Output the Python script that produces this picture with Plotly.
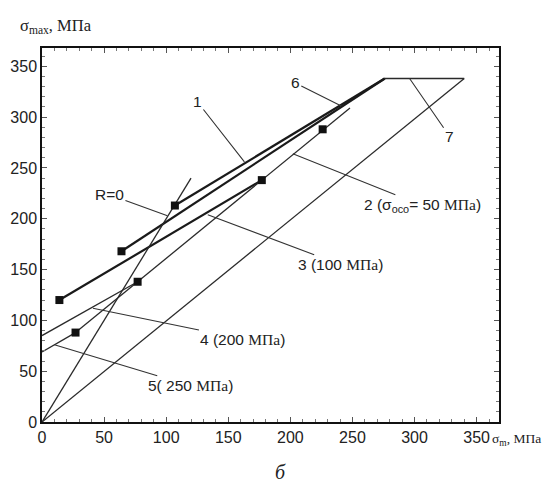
import plotly.graph_objects as go

# ---- data (MPa) ----
# thick boundary lines
thick_x = [[107, 276], [64, 276], [14, 177]]
thick_y = [[213, 338], [168, 338], [120, 238]]
# thin lines
line_eq_x = [0, 340]          # sigma_max = sigma_m
line_eq_y = [0, 338]
limit_x = [276, 340]          # horizontal limit (7)
limit_y = [338, 338]
r0_x = [0, 120]               # R = 0 ray
r0_y = [0, 240]
const_a_x = [27, 248]         # constant-amplitude line through points
const_a_y = [88, 309]
line4_x = [0, 77]
line4_y = [85, 138]
line5_x = [0, 27]
line5_y = [69, 88]
# experimental points
pts_x = [14, 64, 107, 27, 77, 177, 226]
pts_y = [120, 168, 213, 88, 138, 238, 288]

x_ticks = [0, 50, 100, 150, 200, 250, 300, 350]
y_ticks = [0, 50, 100, 150, 200, 250, 300, 350]

fig = go.Figure()
for xs, ys in zip(thick_x, thick_y):
    fig.add_trace(go.Scatter(x=xs, y=ys, mode="lines",
                             line=dict(color="#1a1a1a", width=2.2)))
for xs, ys in [(line_eq_x, line_eq_y), (limit_x, limit_y), (r0_x, r0_y),
               (const_a_x, const_a_y), (line4_x, line4_y), (line5_x, line5_y)]:
    fig.add_trace(go.Scatter(x=xs, y=ys, mode="lines",
                             line=dict(color="#2a2a2a", width=1.3)))
fig.add_trace(go.Scatter(x=pts_x, y=pts_y, mode="markers",
                         marker=dict(symbol="square", size=8, color="#111")))

SERIF = "<span style=\"font-family:'Liberation Serif'\">МПа</span>"
lab_font = dict(family="Liberation Sans, Arial", size=15.5, color="#222")
ann = [
    dict(text="1", x=163, y=256, ax=-47, ay=-60),
    dict(text="6", x=241, y=311, ax=-46, ay=-23),
    dict(text="7", x=296, y=338, ax=40, ay=58),
    dict(text="R=0", x=101, y=203, ax=-58, ay=-21),
    dict(text="2 (σ<sub>oco</sub>= 50 " + SERIF + ")", x=202, y=264, ax=130, ay=52),
    dict(text="3 (100 " + SERIF + ")", x=133.5, y=204, ax=133, ay=50),
    dict(text="4 (200 " + SERIF + ")", x=41, y=112, ax=150, ay=31),
    dict(text="5( 250 " + SERIF + ")", x=10, y=76, ax=136, ay=41),
]
for a in ann:
    fig.add_annotation(x=a["x"], y=a["y"], ax=a["ax"], ay=a["ay"], text=a["text"],
                       showarrow=True, arrowhead=0, arrowwidth=1.1,
                       arrowcolor="#333", font=lab_font, xref="x", yref="y")

fig.add_annotation(text="σ<sub>max</sub>, МПа", x=0, y=1, xref="paper", yref="paper",
                   xanchor="left", yanchor="bottom", xshift=-24, yshift=10,
                   showarrow=False, font=dict(family="Liberation Serif", size=16.5, color="#222"))
fig.add_annotation(text="σ<sub>m</sub>, МПа", x=1, y=0, xref="paper", yref="paper",
                   xanchor="left", yanchor="top", xshift=-9, yshift=-7,
                   showarrow=False, font=dict(family="Liberation Serif", size=13.5, color="#222"))
fig.add_annotation(text="<i>б</i>", x=0.5, y=0, xref="paper", yref="paper",
                   xanchor="center", yanchor="middle", yshift=-50, xshift=10,
                   showarrow=False, font=dict(family="Liberation Serif", size=20, color="#222"))

axis_common = dict(showgrid=False, zeroline=False, showline=True, linecolor="#111",
                   linewidth=1.5, mirror="allticks", ticks="inside", ticklen=5,
                   tickcolor="#555", tickwidth=1, automargin=False,
                   minor=dict(ticks="inside", ticklen=3, dtick=10, tickcolor="#777"),
                   tickfont=dict(family="Liberation Sans, Arial", size=16, color="#222"))
fig.update_xaxes(range=[0, 368], tickvals=x_ticks, **axis_common)
fig.update_yaxes(range=[0, 368], tickvals=y_ticks, ticklabelstandoff=0, **axis_common)

fig.update_layout(width=552, height=484, showlegend=False,
                  margin=dict(l=34, r=61, t=40, b=70),
                  plot_bgcolor="white", paper_bgcolor="white")
fig.write_html("out.html")
